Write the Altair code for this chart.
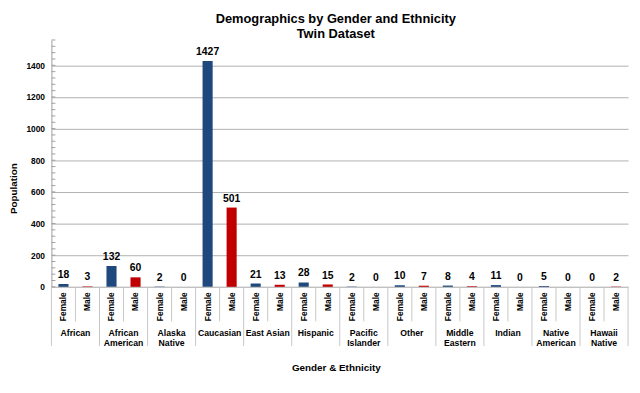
import altair as alt
import pandas as pd

ethnicities = ["African", "African\nAmerican", "Alaska\nNative", "Caucasian", "East Asian",
               "Hispanic", "Pacific\nIslander", "Other", "Middle\nEastern", "Indian",
               "Native\nAmerican", "Hawaii\nNative"]
genders = ["Female", "Male"]
female = [18, 132, 2, 1427, 21, 28, 2, 10, 8, 11, 5, 0]
male = [3, 60, 0, 501, 13, 15, 0, 7, 4, 0, 0, 2]
y_ticks = [0, 200, 400, 600, 800, 1000, 1200, 1400]
minor_ticks = [40 * k for k in range(0, 40)]
colors = ["#1F497D", "#C00000"]

rows = []
for i, eth in enumerate(ethnicities):
    for g, vals in zip(genders, [female, male]):
        rows.append({"key": f"{i:02d}|{g}", "eth": eth, "gender": g, "value": vals[i]})
df = pd.DataFrame(rows)
order = list(df["key"])
eth_df = df[df["gender"] == "Female"].copy()
last_df = df.tail(1).copy()
minor_df = pd.DataFrame({"value": minor_ticks})

W, H = 584, 250
step = W / len(order)
FONT = "Liberation Sans"

xaxis = alt.Axis(labelExpr="split(datum.value, '|')[1]", labelAngle=-90,
                 labelFontSize=8.5, labelFontWeight="bold", labelPadding=5,
                 labelColor="#000000", ticks=False, domainColor="#BFBFBF",
                 labelOverlap=False,
                 title="Gender & Ethnicity", titleFontSize=10, titleFontWeight="bold",
                 titleX=W / 2 - 4, titleY=82, titleBaseline="middle",
                 labelFont=FONT, titleFont=FONT)
xscale = alt.Scale(paddingInner=0, paddingOuter=0)
xenc = alt.X("key:N", sort=order, scale=xscale, axis=xaxis)

yaxis = alt.Axis(values=y_ticks, format="d", labelOverlap=False, grid=True,
                 gridColor="#B0B0B0", ticks=False,
                 domainColor="#A0A0A0", labelFontSize=8.5, labelFontWeight="bold",
                 labelColor="#000000", labelPadding=7, labelFont=FONT,
                 title="Population", titleFontSize=10, titleFontWeight="bold",
                 titleFont=FONT, titleX=-38, titleY=150, titleAlign="center",
                 titleBaseline="middle", titleAngle=-90)
yscale = alt.Scale(domain=[0, 1560], nice=False)
yenc = alt.Y("value:Q", scale=yscale, axis=yaxis)

bars = alt.Chart(df).mark_bar(width=alt.RelativeBandSize(0.42)).encode(
    x=xenc, y=yenc,
    color=alt.Color("gender:N", scale=alt.Scale(domain=genders, range=colors), legend=None),
)

labels = alt.Chart(df).mark_text(baseline="bottom", dy=-4, fontSize=10.5, fontWeight="bold",
                                 font=FONT, color="#000000").encode(
    x=xenc, y=yenc, text="value:Q")

eth_text = alt.Chart(eth_df).mark_text(baseline="top", lineBreak="\n", fontSize=8.8,
                                       fontWeight="bold", font=FONT, color="#000000",
                                       xOffset=step / 2, lineHeight=10).encode(
    x=xenc, y=alt.value(H + 43), text="eth:N")

long_sep = alt.Chart(eth_df).mark_rule(color="#C8C8C8", xOffset=-step / 2).encode(
    x=xenc, y=alt.value(H), y2=alt.value(H + 60))
short_sep = alt.Chart(df[df["gender"] == "Male"]).mark_rule(color="#C8C8C8", xOffset=-step / 2).encode(
    x=xenc, y=alt.value(H), y2=alt.value(H + 35))
right_sep = alt.Chart(last_df).mark_rule(color="#C8C8C8", xOffset=step / 2).encode(
    x=xenc, y=alt.value(H), y2=alt.value(H + 60))
minor = alt.Chart(minor_df).mark_rule(color="#A0A0A0").encode(
    y=yenc, x=alt.value(0), x2=alt.value(4))

chart = alt.layer(bars, labels, eth_text, long_sep, short_sep, right_sep, minor).properties(
    width=W, height=H,
    title=alt.TitleParams(text=["Demographics by Gender and Ethnicity", "Twin Dataset"],
                          fontSize=13, fontWeight="bold", font=FONT, anchor="middle",
                          offset=-1, lineHeight=15, color="#000000", dx=-4),
    autosize=alt.AutoSizeParams(type="none"),
    padding={"left": 44, "top": 30, "right": 4, "bottom": 95},
).configure_view(stroke=None).configure_axis(labelFont=FONT, titleFont=FONT)

chart.save("out.html", embed_options={"renderer": "svg", "actions": False})
